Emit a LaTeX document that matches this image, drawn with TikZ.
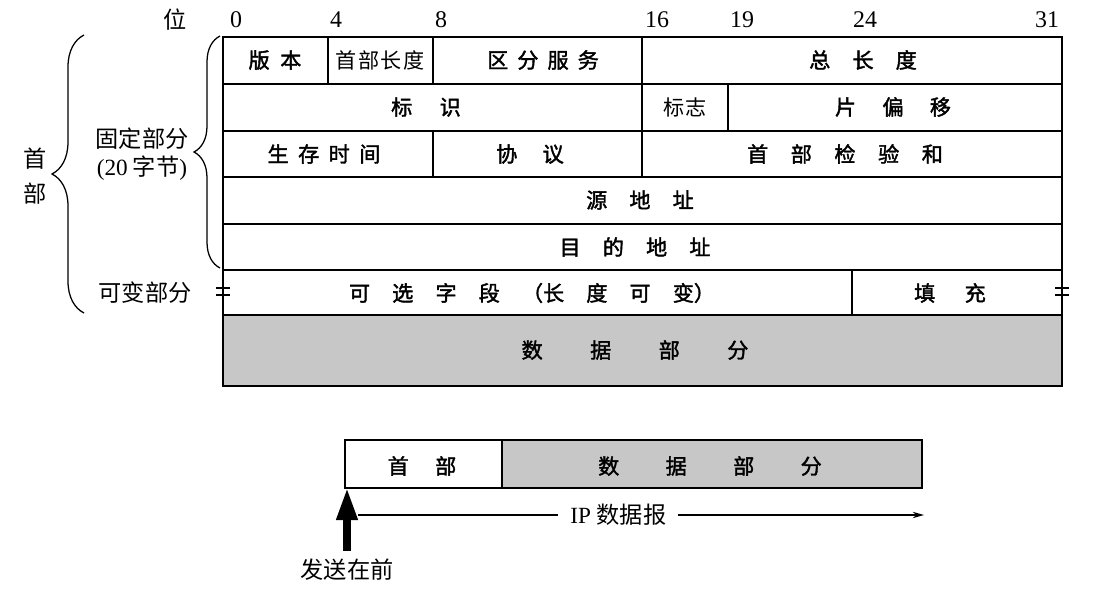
\documentclass[tikz,border=0pt]{standalone}
\usepackage{fontspec}
\setmainfont{Liberation Serif}
\newfontfamily\cjk{Noto Sans CJK SC}
\newfontfamily\cjkb[FakeBold=1.8]{Noto Sans CJK SC}
\usetikzlibrary{arrows.meta,decorations.pathreplacing}
\newcommand\spaced[2]{\foreach \chr [count=\cnt] in {#2}{\ifnum\cnt>1\hspace{#1}\fi\chr}}

\begin{document}
\begin{tikzpicture}[x=0.025cm,y=-0.025cm,
    rule/.style={line width=1.1pt},
    field/.style={font=\cjkb\fontsize{15}{18}\selectfont,inner sep=0pt},
    plain/.style={font=\cjk\fontsize{15}{18}\selectfont},
    side/.style={font=\cjk\fontsize{16.5}{23}\selectfont,inner sep=0pt,align=center},
    bit/.style={font=\fontsize{17}{20}\selectfont,inner sep=0pt},
    datafill/.style={fill=black!22},
    curl/.style={decorate,decoration={brace,amplitude=#1},line width=0.9pt}]
  \useasboundingbox (0,0) rectangle (1105,591);
  % bit numbers
  \node[side] (wei) at (175,20) {位};
  \foreach \b/\x in {0/236,4/336,8/441,16/657,19/742,24/865,31/1047}
    \node[bit] (b\b) at (\x,20) {\b};
  % header table and data part
  \fill[datafill] (223,315) rectangle (1062,386);
  \draw[rule] (223,37) rectangle (1062,386);
  \foreach \y in {84,131,177,224,270,315}
    \draw[rule] (223,\y) -- (1062,\y);
  \draw[rule] (328,37) -- (328,84) (433,37) -- (433,84) (642,37) -- (642,177)
    (728,84) -- (728,131) (433,131) -- (433,177) (852,270) -- (852,315);
  \draw[line width=1.6pt] (216,288) -- (230,288) (216,295) -- (230,295)
    (1055,288) -- (1069,288) (1055,295) -- (1069,295);
  % fields
  \node[field] (ver) at (275,60) {\spaced{0.5em}{版,本}};
  \node[field,plain] (hlen) at (380,60) {\spaced{0.08em}{首,部,长,度}};
  \node[field] (tos) at (543,60) {\spaced{0.43em}{区,分,服,务}};
  \node[field] (tlen) at (863,60) {\spaced{1.05em}{总,长,度}};
  \node[field] (ident) at (426,107) {\spaced{1.3em}{标,识}};
  \node[field,plain] (flag) at (685,107) {标志};
  \node[field] (frag) at (893,107) {\spaced{1.25em}{片,偏,移}};
  \node[field] (ttl) at (324,154) {\spaced{0.45em}{生,存,时,间}};
  \node[field] (proto) at (530,154) {\spaced{1.2em}{协,议}};
  \node[field] (csum) at (845,154) {\spaced{1.07em}{首,部,检,验,和}};
  \node[field] (src) at (640,200) {\spaced{1.05em}{源,地,址}};
  \node[field] (dst) at (635,247) {\spaced{1.05em}{目,的,地,址}};
  \node[field] (opt) at (532,293) {\spaced{1.05em}{可,选,字,段,（长,度,可,变）}};
  \node[field] (pad) at (950,293) {\spaced{1.4em}{填,充}};
  \node[field] (data) at (635,350) {\spaced{2.25em}{数,据,部,分}};
  % braces on the left
  \draw[curl=0.8cm] (84,313) -- (84,35);
  \node[side] (hdr) at (35,176) {首\\[2pt]部};
  \draw[curl=0.65cm] (220,268) -- (220,36);
  \node[side,font=\cjk\fontsize{16.5}{20}\selectfont] (fixed) at (142,154)
    {固定部分\\{\rmfamily(20} 字节{\rmfamily)}};
  \node[side] (var) at (145,293) {可变部分};
  % IP datagram
  \fill[datafill] (502,440) rectangle (922,488);
  \draw[rule] (345,440) rectangle (922,488) (502,440) -- (502,488);
  \draw[line width=2pt] (345,488) -- (922,488) -- (922,440);
  \node[field] (dhdr) at (422,466) {\spaced{1.25em}{首,部}};
  \node[field] (dpart) at (710,466) {\spaced{2.2em}{数,据,部,分}};
  \coordinate (front) at (347,488);
  \coordinate (ipL) at (358,515);
  \coordinate (ipR) at (924,515);
  \draw[line width=0.9pt,-{Stealth[length=8pt,width=4.5pt]}] (ipL) --
    node[pos=0.46,fill=white,inner xsep=0.3cm,font=\fontsize{16.5}{20}\selectfont]
    (ip) {IP {\cjk 数据报}} (ipR);
  \node[side] (send) at (347,570) {发送在前};
  \draw[line width=5pt,-{Triangle[length=0.8cm,width=0.5cm]},shorten <=0.2cm]
    (send.north) -- (front);
\end{tikzpicture}
\end{document}
